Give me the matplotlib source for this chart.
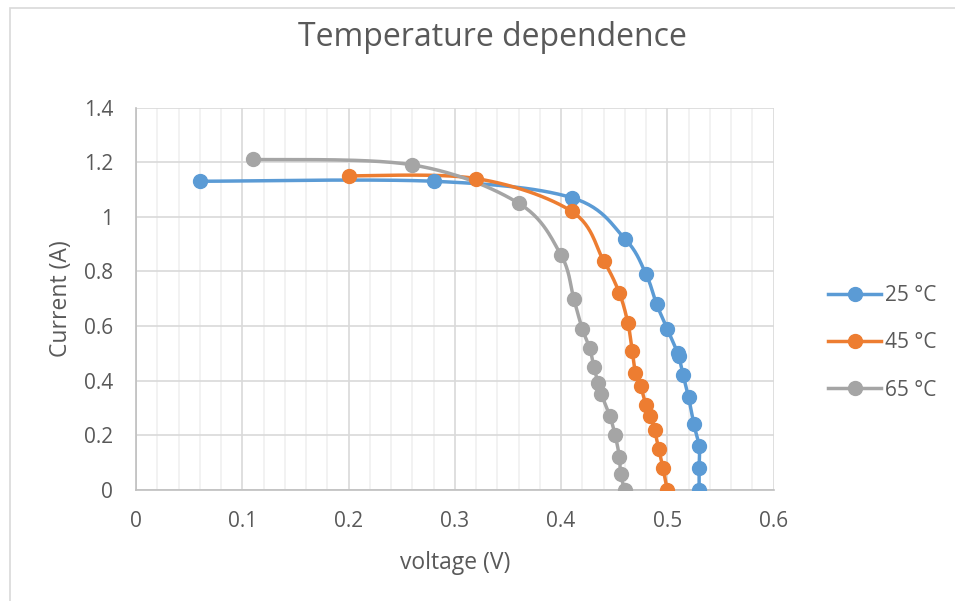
import numpy as np
import matplotlib
matplotlib.use("Agg")
import matplotlib.pyplot as plt
from matplotlib.patches import Rectangle
from matplotlib.ticker import MultipleLocator

plt.rcParams['font.family'] = ['Open Sans', 'DejaVu Sans']

title = "Temperature dependence"
x_label = "voltage (V)"
y_label = "Current (A)"
series_names = ["25 °C", "45 °C", "65 °C"]

v25 = [0.06, 0.28, 0.41, 0.46, 0.48, 0.49, 0.50, 0.51, 0.511, 0.515, 0.52, 0.525, 0.53, 0.53, 0.53]
i25 = [1.13, 1.13, 1.07, 0.92, 0.79, 0.68, 0.59, 0.50, 0.49, 0.42, 0.34, 0.24, 0.16, 0.08, 0.0]

v45 = [0.20, 0.32, 0.41, 0.44, 0.455, 0.463, 0.467, 0.47, 0.475, 0.48, 0.484, 0.488, 0.492, 0.496, 0.50]
i45 = [1.15, 1.14, 1.02, 0.84, 0.72, 0.61, 0.51, 0.43, 0.38, 0.31, 0.27, 0.22, 0.15, 0.08, 0.0]

v65 = [0.11, 0.26, 0.36, 0.40, 0.412, 0.42, 0.427, 0.431, 0.435, 0.438, 0.446, 0.451, 0.455, 0.456, 0.46]
i65 = [1.21, 1.19, 1.05, 0.86, 0.70, 0.59, 0.52, 0.45, 0.39, 0.35, 0.27, 0.20, 0.12, 0.06, 0.0]

colors = ["#5B9BD5", "#ED7D31", "#A5A5A5"]
TEXT = "#595959"


def smooth(xs, ys, n=30):
    """Catmull-Rom style smoothing (like Excel's smoothed line) for drawing."""
    P = np.column_stack([xs, ys]).astype(float)
    out = [P[0]]
    for k in range(len(P) - 1):
        p0 = P[k - 1] if k > 0 else P[k]
        p1 = P[k]
        p2 = P[k + 1]
        p3 = P[k + 2] if k + 2 < len(P) else P[k + 1]
        c1 = p1 + (p2 - p0) / 6.0
        c2 = p2 - (p3 - p1) / 6.0
        t = np.linspace(0, 1, n)[1:, None]
        seg = ((1 - t) ** 3) * p1 + 3 * ((1 - t) ** 2) * t * c1 + 3 * (1 - t) * t ** 2 * c2 + t ** 3 * p2
        out.extend(seg)
    out = np.array(out)
    return out[:, 0], out[:, 1]


W, H = 955, 601
fig = plt.figure(figsize=(W / 100, H / 100), dpi=100)
fig.patch.set_facecolor("white")

# chart border (continues past the right and bottom edges)
fig.patches.append(Rectangle((9.5 / W, -0.05), 1.2, 1.05 - 8.5 / H, transform=fig.transFigure,
                             fill=False, edgecolor="#d9d9d9", linewidth=1.2, zorder=0))

ax = fig.add_axes([136 / W, (H - 490) / H, (773.5 - 136) / W, (490 - 107.5) / H])

for xs, ys, c, name in zip([v25, v45, v65], [i25, i45, i65], colors, series_names):
    sx, sy = smooth(xs, ys)
    ax.plot(sx, sy, color=c, linewidth=2.5, solid_capstyle="round", zorder=3)
    ax.plot(xs, ys, linestyle="none", marker="o", markersize=10, color=c, zorder=4)
    ax.plot([], [], color=c, linewidth=2.5, marker="o", markersize=10, label=name)

ax.set_xlim(0, 0.6)
ax.set_ylim(0, 1.4)
ax.xaxis.set_minor_locator(MultipleLocator(0.02))
ax.set_xticks([0, 0.1, 0.2, 0.3, 0.4, 0.5, 0.6])
ax.set_xticklabels(["0", "0.1", "0.2", "0.3", "0.4", "0.5", "0.6"])
ax.set_yticks([0, 0.2, 0.4, 0.6, 0.8, 1.0, 1.2, 1.4])
ax.set_yticklabels(["0", "0.2", "0.4", "0.6", "0.8", "1", "1.2", "1.4"])

ax.grid(which="major", color="#d9d9d9", linewidth=1.2, zorder=0)
ax.grid(which="minor", axis="x", color="#f0f0f0", linewidth=1.2, zorder=0)
ax.set_axisbelow(True)
for s in ["top", "right"]:
    ax.spines[s].set_visible(False)
for s in ["left", "bottom"]:
    ax.spines[s].set_color("#bfbfbf")
    ax.spines[s].set_linewidth(1.2)
ax.tick_params(which="both", length=0, labelsize=15, colors=TEXT)
ax.tick_params(axis="y", pad=16.5)
ax.tick_params(axis="x", pad=15)

ax.set_xlabel(x_label, fontsize=16.5, color=TEXT, labelpad=14)
ax.set_ylabel(y_label, fontsize=16.5, color=TEXT, labelpad=8)
fig.text(0.5 * (298 + 686) / W, 1 - 38 / H, title, fontsize=23, color=TEXT, ha="center", va="center")

leg = ax.legend(loc="center left", bbox_to_anchor=(828 / W, 1 - 343 / H), bbox_transform=fig.transFigure,
                frameon=False, fontsize=15, labelcolor=TEXT, handlelength=2.55, handletextpad=0.2,
                labelspacing=1.25, borderaxespad=0, borderpad=0)

fig.savefig("out.png", dpi=100, facecolor="white")
